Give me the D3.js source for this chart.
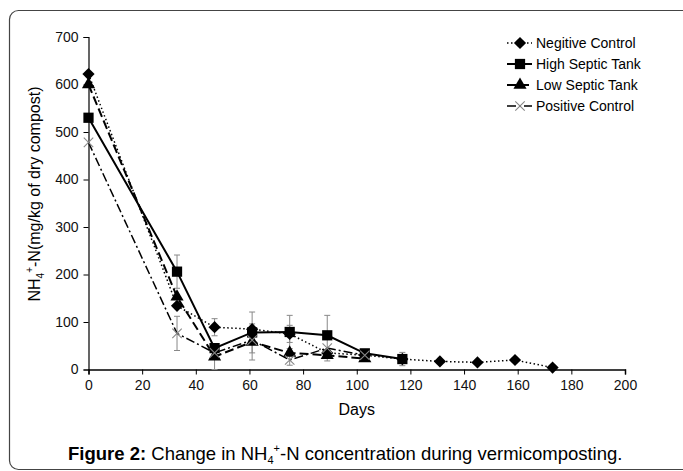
<!DOCTYPE html>
<html>
<head>
<meta charset="utf-8">
<script src="https://cdn.jsdelivr.net/npm/d3@7"></script>
<style>
  body { margin: 0; background: #fff; }
  svg { font-family: "Liberation Sans", Arial, sans-serif; }
</style>
</head>
<body>
<div id="chart"></div>
<script>
// Days sampled for each treatment
const daysNeg = [0, 33, 47, 61, 75, 89, 103, 117, 131, 145, 159, 173];
const daysHigh = [0, 33, 47, 61, 75, 89, 103, 117];
const daysLow = [0, 33, 47, 61, 75, 89, 103];
const daysPos = [0, 33, 47, 61, 75, 89, 103];

// NH4+-N values (mg/kg of dry compost)
const negativeControl = [622, 134, 89, 85, 75, 35, 30, 22, 17, 15, 20, 4];
const highSepticTank = [530, 206, 45, 78, 79, 72, 34, 22];
const lowSepticTank = [600, 153, 27, 58, 35, 30, 23];
const positiveControl = [478, 76, 35, 62, 20, 45, 30];

// error bar half widths
const errNeg = [0, 0, 18, 0, 18, 0, 0, 0, 0, 0, 0, 0];
const errHigh = [0, 35, 0, 43, 35, 42, 8, 14];
const errLow = [0, 0, 27, 38, 0, 12, 0];
const errPos = [0, 36, 0, 0, 11, 0, 0];

const xTicks = [0, 20, 40, 60, 80, 100, 120, 140, 160, 180, 200];
const yTicks = [0, 100, 200, 300, 400, 500, 600, 700];

const width = 683, height = 471;
const plotLeft = 88.5, plotRight = 625, plotTop = 37, plotBottom = 369.5;

const svg = d3.select('#chart')
  .append('svg')
    .attr('width', width)
    .attr('height', height);

// frame round the figure
svg.append('rect')
    .attr('x', 9.5)
    .attr('y', 10.5)
    .attr('width', 700)
    .attr('height', 459)
    .attr('rx', 9)
    .attr('fill', 'none')
    .attr('stroke', '#444')
    .attr('stroke-width', 1.2);

const x = d3.scaleLinear().domain([0, 200]).range([plotLeft, plotRight]);
const y = d3.scaleLinear().domain([0, 700]).range([plotBottom, plotTop]);

// axes
svg.append('g')
    .attr('transform', `translate(0,${plotBottom})`)
    .call(d3.axisBottom(x).tickValues(xTicks).tickSizeOuter(0).tickSize(5).tickPadding(6))
    .call(g => g.select('.domain').attr('stroke-width', 1.5))
    .call(g => g.selectAll('text').attr('font-size', 14).attr('fill', '#111'));

svg.append('g')
    .attr('transform', `translate(${plotLeft},0)`)
    .call(d3.axisLeft(y).tickValues(yTicks).tickSizeOuter(0).tickSize(5).tickPadding(5))
    .call(g => g.select('.domain').attr('stroke-width', 1.2))
    .call(g => g.selectAll('text').attr('font-size', 14).attr('fill', '#111'));

// axis titles
svg.append('text')
    .attr('x', (plotLeft + plotRight) / 2)
    .attr('y', 415)
    .attr('text-anchor', 'middle')
    .attr('font-size', 16)
    .text('Days');

const yTitle = svg.append('text')
    .attr('transform', 'translate(40,194) rotate(-90)')
    .attr('text-anchor', 'middle')
    .attr('font-size', 16);
yTitle.append('tspan').text('NH');
yTitle.append('tspan').attr('font-size', 10).attr('dy', 4).text('4');
yTitle.append('tspan').attr('font-size', 10).attr('dy', -11).text('+');
yTitle.append('tspan').attr('dy', 7).text('-N(mg/kg of dry compost)');

const series = [
  { name: 'Negitive Control', days: daysNeg, values: negativeControl, err: errNeg, dash: '1.5,2.5', sw: 1.5, marker: 'diamond' },
  { name: 'High Septic Tank', days: daysHigh, values: highSepticTank, err: errHigh, dash: null, sw: 2, marker: 'square' },
  { name: 'Low Septic Tank', days: daysLow, values: lowSepticTank, err: errLow, dash: '9,4', sw: 2, marker: 'triangle' },
  { name: 'Positive Control', days: daysPos, values: positiveControl, err: errPos, dash: '9,3,2,3', sw: 1.5, marker: 'cross' }
];

const symbols = {
  diamond: d3.symbol(d3.symbolDiamond2 || d3.symbolDiamond, 95),
  square: d3.symbol(d3.symbolSquare, 105),
  triangle: d3.symbol(d3.symbolTriangle, 75),
  cross: d3.symbol(d3.symbolTimes, 60)
};

function drawMarker(g, s, cx, cy) {
  if (s.marker === 'cross') {
    g.append('path')
        .attr('d', symbols.cross())
        .attr('transform', `translate(${cx},${cy})`)
        .attr('fill', 'none')
        .attr('stroke', '#888')
        .attr('stroke-width', 1.1);
  } else {
    g.append('path')
        .attr('d', symbols[s.marker]())
        .attr('transform', `translate(${cx},${cy})`)
        .attr('fill', '#000');
  }
}

const line = d3.line().x(d => x(d[0])).y(d => y(d[1]));

// error bars
series.forEach(s => {
  const g = svg.append('g').attr('stroke', '#888').attr('stroke-width', 1);
  s.days.forEach((d, i) => {
    if (!s.err[i]) return;
    const lo = Math.max(0, s.values[i] - s.err[i]), hi = s.values[i] + s.err[i];
    g.append('line').attr('x1', x(d)).attr('x2', x(d)).attr('y1', y(lo)).attr('y2', y(hi));
    g.append('line').attr('x1', x(d) - 3).attr('x2', x(d) + 3).attr('y1', y(lo)).attr('y2', y(lo));
    g.append('line').attr('x1', x(d) - 3).attr('x2', x(d) + 3).attr('y1', y(hi)).attr('y2', y(hi));
  });
});

// lines and markers
series.forEach(s => {
  const pts = s.days.map((d, i) => [d, s.values[i]]);
  svg.append('path')
      .datum(pts)
      .attr('d', line)
      .attr('fill', 'none')
      .attr('stroke', '#000')
      .attr('stroke-width', s.sw)
      .attr('stroke-dasharray', s.dash);
  const g = svg.append('g');
  pts.forEach(p => drawMarker(g, s, x(p[0]), y(p[1])));
});

// legend
const legend = svg.append('g');
series.forEach((s, i) => {
  const ly = 43 + i * 21;
  legend.append('line')
      .attr('x1', 507).attr('x2', 532)
      .attr('y1', ly).attr('y2', ly)
      .attr('stroke', '#000')
      .attr('stroke-width', s.sw)
      .attr('stroke-dasharray', s.dash);
  drawMarker(legend, s, 520, ly);
  legend.append('text')
      .attr('x', 536)
      .attr('y', ly + 5)
      .attr('font-size', 14)
      .text(s.name);
});

// caption
const cap = svg.append('text')
    .attr('x', 68)
    .attr('y', 460)
    .attr('font-size', 18.5);
cap.append('tspan').attr('font-weight', 'bold').text('Figure 2:');
cap.append('tspan').text(' Change in NH');
cap.append('tspan').attr('font-size', 11).attr('dy', 4).text('4');
cap.append('tspan').attr('font-size', 11).attr('dy', -12).text('+');
cap.append('tspan').attr('dy', 8).text('-N concentration during vermicomposting.');
</script>
</body>
</html>
